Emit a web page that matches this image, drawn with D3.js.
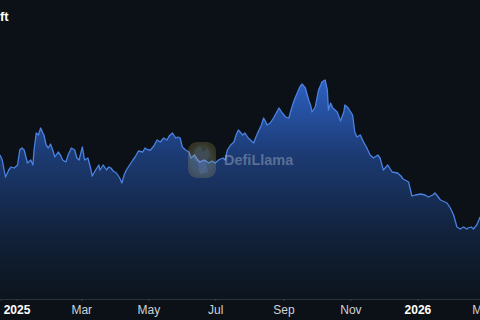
<!DOCTYPE html>
<html>
<head>
<meta charset="utf-8">
<script src="https://cdn.jsdelivr.net/npm/d3@7"></script>
<style>
  html, body { margin: 0; padding: 0; background: #0b1116; }
  svg { display: block; }
</style>
</head>
<body>
<svg id="chart" width="480" height="320"></svg>
<script>
// ---- data ----
const dates = [
 "2024-12-17","2024-12-19","2024-12-22","2024-12-25","2024-12-27","2024-12-30",
 "2025-01-02","2025-01-04","2025-01-06","2025-01-08","2025-01-11","2025-01-14","2025-01-16","2025-01-17",
 "2025-01-19","2025-01-21","2025-01-23","2025-01-25","2025-01-26","2025-01-28","2025-01-30",
 "2025-02-01","2025-02-03","2025-02-05","2025-02-08","2025-02-10","2025-02-12","2025-02-15","2025-02-17",
 "2025-02-20","2025-02-23","2025-02-25","2025-02-27",
 "2025-03-02","2025-03-04","2025-03-07","2025-03-09","2025-03-11","2025-03-14","2025-03-17","2025-03-18",
 "2025-03-21","2025-03-24","2025-03-26","2025-03-28","2025-03-30",
 "2025-04-02","2025-04-05","2025-04-07","2025-04-09","2025-04-11","2025-04-14","2025-04-17","2025-04-19",
 "2025-04-22","2025-04-26","2025-04-28",
 "2025-05-01","2025-05-03","2025-05-06","2025-05-09","2025-05-12","2025-05-15","2025-05-18","2025-05-20",
 "2025-05-23","2025-05-26","2025-05-28","2025-05-30",
 "2025-06-01","2025-06-04","2025-06-07","2025-06-09","2025-06-12","2025-06-15","2025-06-17","2025-06-21",
 "2025-06-25","2025-06-28",
 "2025-07-01","2025-07-04","2025-07-08","2025-07-10","2025-07-12","2025-07-15","2025-07-18","2025-07-20",
 "2025-07-22","2025-07-26","2025-07-28","2025-07-31",
 "2025-08-02","2025-08-05","2025-08-07","2025-08-09","2025-08-12","2025-08-14","2025-08-16","2025-08-17",
 "2025-08-20","2025-08-23","2025-08-26","2025-08-28","2025-08-31",
 "2025-09-03","2025-09-06","2025-09-08","2025-09-10","2025-09-12","2025-09-14","2025-09-16","2025-09-18",
 "2025-09-21","2025-09-24","2025-09-26","2025-09-27","2025-09-30",
 "2025-10-03","2025-10-05","2025-10-06","2025-10-09","2025-10-11","2025-10-12","2025-10-14","2025-10-16",
 "2025-10-20","2025-10-23","2025-10-26","2025-10-27","2025-10-30",
 "2025-11-03","2025-11-05","2025-11-07","2025-11-10","2025-11-13","2025-11-16","2025-11-19","2025-11-22",
 "2025-11-26","2025-11-28",
 "2025-12-01","2025-12-05","2025-12-09","2025-12-14","2025-12-17","2025-12-19","2025-12-24","2025-12-27",
 "2025-12-30",
 "2026-01-04","2026-01-08","2026-01-11","2026-01-15","2026-01-17","2026-01-20","2026-01-22","2026-01-26",
 "2026-01-28","2026-01-31",
 "2026-02-03","2026-02-06","2026-02-09","2026-02-12","2026-02-15","2026-02-16","2026-02-19","2026-02-21",
 "2026-02-24","2026-02-26","2026-02-27"
];
const values = [
 144,139,122,129,132,131,
 134,149,151,149,136,139,134,149,
 166,164,171,166,164,154,151,
 155,149,142,147,144,139,137,144,
 151,149,141,139,
 152,139,141,133,123,129,134,129,
 134,129,132,131,128,
 126,121,116,124,129,134,139,142,
 148,147,151,
 149,149,153,159,157,161,159,163,
 166,161,162,161,
 152,149,147,141,144,139,137,139,
 136,138,
 136,139,141,139,149,154,157,164,
 169,164,166,161,
 159,156,162,167,174,181,177,174,
 176,181,187,191,186,
 182,181,189,196,202,207,212,215,
 211,199,193,187,192,
 209,214,217,219,209,189,196,191,
 187,178,187,194,191,
 184,167,162,164,157,151,144,141,
 144,141,
 129,134,127,126,123,120,117,103,
 104,
 105,104,102,104,106,102,99,97,
 96,91,
 84,72,70,72,70,71,72,70,
 74,79,82
];
const tickDates = ["2025-01-01","2025-03-01","2025-05-01","2025-07-01","2025-09-01","2025-11-01","2026-01-01","2026-03-01"];
const tickLabels = ["2025","Mar","May","Jul","Sep","Nov","2026","Mar"];
const titleText = "ft";
const watermarkText = "DefiLlama";

// ---- drawing ----
const W = 480, H = 320;
const parse = d3.utcParse("%Y-%m-%d");
const data = dates.map((d, i) => ({ date: parse(d), value: values[i] }));

const svg = d3.select("#chart");
const margin = { top: 69, bottom: 21, left: 0, right: 0 };

const x = d3.scaleUtc()
  .domain([parse("2024-12-17"), parse("2026-02-27")])
  .range([0, W]);
const y = d3.scaleLinear()
  .domain([0, 230])
  .range([H - margin.bottom, margin.top]);

svg.append("rect").attr("width", W).attr("height", H).attr("fill", "#0b1116");

const defs = svg.append("defs");
const grad = defs.append("linearGradient")
  .attr("id", "areaGrad")
  .attr("gradientUnits", "userSpaceOnUse")
  .attr("x1", 0).attr("x2", 0)
  .attr("y1", y(220)).attr("y2", y(0));
grad.append("stop").attr("offset", "0%").attr("stop-color", "#2d60c2");
grad.append("stop").attr("offset", "35%").attr("stop-color", "#1c3a72");
grad.append("stop").attr("offset", "70%").attr("stop-color", "#12223c");
grad.append("stop").attr("offset", "100%").attr("stop-color", "#0c141c");

const area = d3.area()
  .x(d => x(d.date))
  .y0(y(0))
  .y1(d => y(d.value))
  .curve(d3.curveLinear);
const line = d3.line()
  .x(d => x(d.date))
  .y(d => y(d.value))
  .curve(d3.curveLinear);

svg.append("path").datum(data).attr("d", area).attr("fill", "url(#areaGrad)");
svg.append("path").datum(data).attr("d", line)
  .attr("fill", "none").attr("stroke", "#4a82e2").attr("stroke-width", 1.3)
  .attr("stroke-linejoin", "round");

// watermark
const wm = svg.append("g").attr("opacity", 0.35);
const logoGrad = defs.append("radialGradient").attr("id", "logoGrad");
logoGrad.append("stop").attr("offset", "0%").attr("stop-color", "#6a8fd0");
logoGrad.append("stop").attr("offset", "70%").attr("stop-color", "#8a9a7a");
logoGrad.append("stop").attr("offset", "100%").attr("stop-color", "#c8b060").attr("stop-opacity", 0.6);
wm.append("rect").attr("x", 188).attr("y", 142).attr("width", 28).attr("height", 36)
  .attr("rx", 9).attr("fill", "url(#logoGrad)");
wm.append("path")
  .attr("d", "M195,150 l5,-4 l3,6 l5,-4 l2,8 l-4,6 l2,10 l-8,2 l-2,-10 l-5,-6 z")
  .attr("fill", "#b8c4d8").attr("opacity", 0.7);
svg.append("text")
  .attr("x", 224).attr("y", 165)
  .attr("font-family", "Liberation Sans, Arial, sans-serif")
  .attr("font-size", 14.5).attr("font-weight", "bold")
  .attr("fill", "#ffffff").attr("fill-opacity", 0.28)
  .text(watermarkText);

// x axis
const ticks = tickDates.map(parse);
const axis = d3.axisBottom(x)
  .tickValues(ticks)
  .tickSize(2)
  .tickPadding(4)
  .tickFormat((d, i) => tickLabels[i]);
const gx = svg.append("g")
  .attr("transform", `translate(0,${y(0)})`)
  .call(axis);
gx.select(".domain").attr("stroke", "#2b3238").attr("stroke-width", 1);
gx.selectAll(".tick line").attr("stroke", "#3a4248");
gx.selectAll(".tick text")
  .attr("font-family", "Liberation Sans, Arial, sans-serif")
  .attr("font-size", 12)
  .attr("fill", (d, i) => /^\d{4}$/.test(tickLabels[i]) ? "#ffffff" : "#cfd2d6")
  .attr("font-weight", (d, i) => /^\d{4}$/.test(tickLabels[i]) ? "bold" : "normal");

// title (cropped in reference)
svg.append("text")
  .attr("x", 0).attr("y", 21)
  .attr("font-family", "Liberation Sans, Arial, sans-serif")
  .attr("font-size", 13).attr("font-weight", "bold")
  .attr("fill", "#ffffff")
  .text(titleText);
</script>
</body>
</html>
